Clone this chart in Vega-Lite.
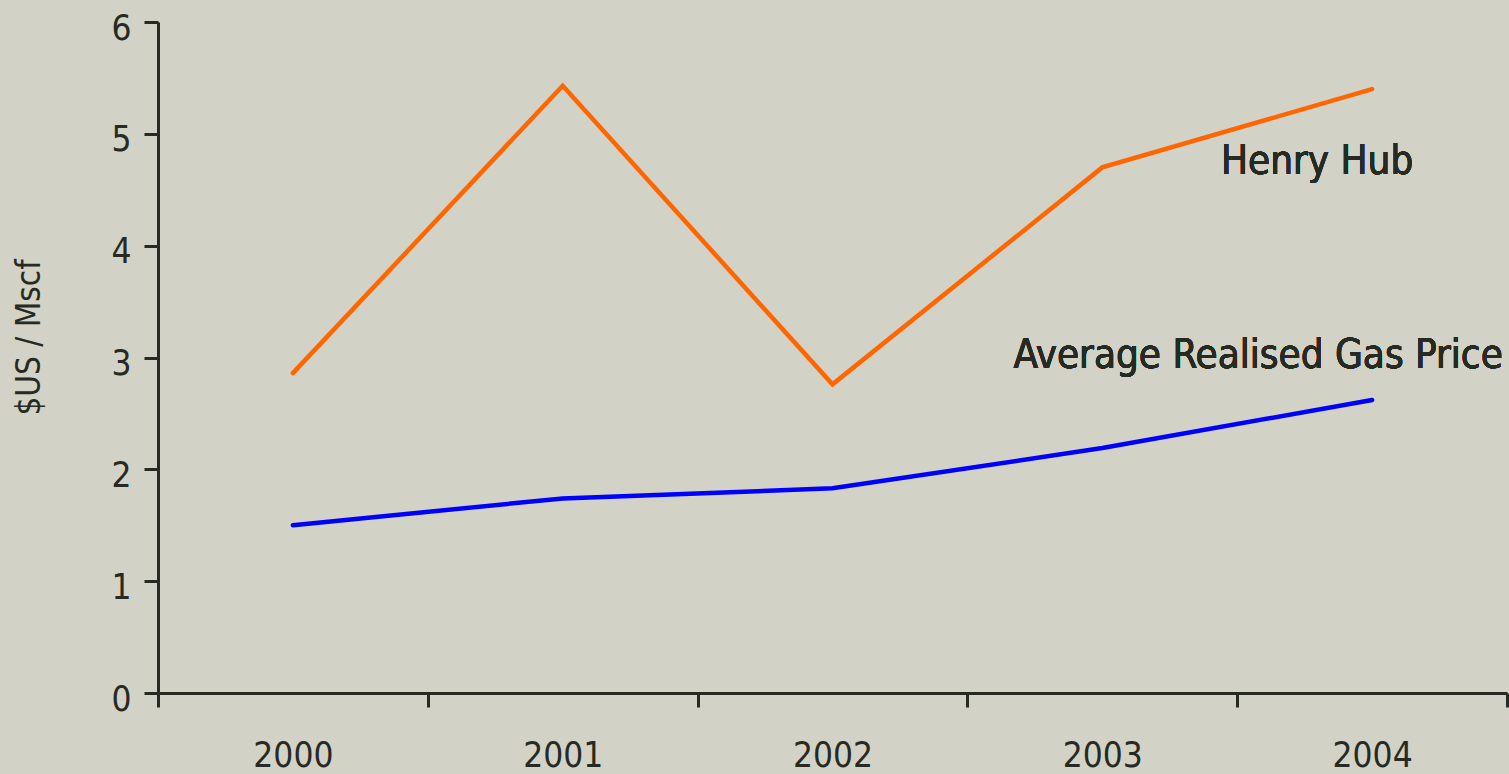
{
  "$schema": "https://vega.github.io/schema/vega-lite/v6.json",
  "autosize": "none",
  "width": 1349,
  "height": 671,
  "padding": {"left": 158, "top": 22, "right": 2, "bottom": 81},
  "background": "#D2D2C6",
  "config": {
    "view": {"stroke": null},
    "font": "DejaVu Sans Condensed",
    "axis": {
      "domainColor": "#262A22",
      "domainWidth": 3,
      "tickColor": "#262A22",
      "tickWidth": 3,
      "tickSize": 14,
      "labelColor": "#262A22",
      "labelFont": "DejaVu Sans Condensed",
      "labelFontSize": 35,
      "titleColor": "#262A22",
      "titleFont": "DejaVu Sans Condensed",
      "titleFontWeight": "normal",
      "titleFontSize": 33,
      "grid": false
    }
  },
  "data": {
    "values": [
      {"year": "2000", "series": "Henry Hub", "price": 2.86},
      {"year": "2001", "series": "Henry Hub", "price": 5.43},
      {"year": "2002", "series": "Henry Hub", "price": 2.76},
      {"year": "2003", "series": "Henry Hub", "price": 4.70},
      {"year": "2004", "series": "Henry Hub", "price": 5.40},
      {"year": "2000", "series": "Average Realised Gas Price", "price": 1.50},
      {"year": "2001", "series": "Average Realised Gas Price", "price": 1.74},
      {"year": "2002", "series": "Average Realised Gas Price", "price": 1.83},
      {"year": "2003", "series": "Average Realised Gas Price", "price": 2.19},
      {"year": "2004", "series": "Average Realised Gas Price", "price": 2.62}
    ]
  },
  "layer": [
    {
      "mark": {"type": "line", "strokeWidth": 4.5, "strokeCap": "round", "strokeJoin": "miter"},
      "encoding": {
        "x": {
          "field": "year", "type": "ordinal", "title": null,
          "scale": {"type": "band", "paddingInner": 0, "paddingOuter": 0},
          "axis": {"labelAngle": 0, "tickBand": "extent", "labelPadding": 31, "labelBaseline": "top"}
        },
        "y": {
          "field": "price", "type": "quantitative", "title": "$US / Mscf",
          "scale": {"domain": [0, 6], "nice": false},
          "axis": {"values": [0, 1, 2, 3, 4, 5, 6], "format": "d", "labelPadding": 13, "labelOffset": 6,
                   "titleX": -129, "titleY": 315, "titleAngle": -90, "titleAlign": "center", "titleBaseline": "middle"}
        },
        "color": {
          "field": "series", "type": "nominal", "legend": null,
          "scale": {"domain": ["Henry Hub", "Average Realised Gas Price"], "range": ["#FF6600", "#0000FF"]}
        }
      }
    },
    {
      "mark": {"type": "text", "text": "Henry Hub", "fontSize": 40, "color": "#262A22", "align": "center", "baseline": "alphabetic", "dx": -55},
      "encoding": {"x": {"datum": "2004"}, "y": {"datum": 4.64}}
    },
    {
      "mark": {"type": "text", "text": "Average Realised Gas Price", "fontSize": 40, "color": "#262A22", "align": "center", "baseline": "alphabetic", "dx": -114},
      "encoding": {"x": {"datum": "2004"}, "y": {"datum": 2.906}}
    }
  ]
}
